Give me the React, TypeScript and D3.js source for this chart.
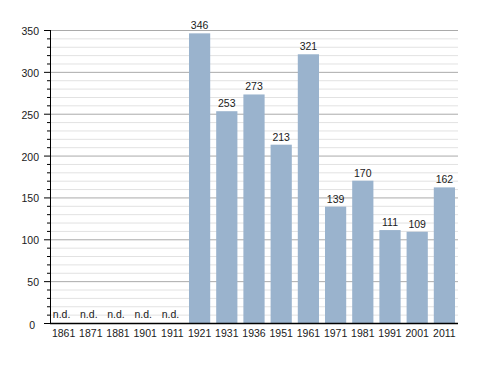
import React, { useEffect, useRef } from 'react';
import * as d3 from 'd3';

// census years and population (null = no data)
const years = ['1861', '1871', '1881', '1901', '1911', '1921', '1931', '1936', '1951', '1961', '1971', '1981', '1991', '2001', '2011'];
const population: (number | null)[] = [null, null, null, null, null, 346, 253, 273, 213, 321, 139, 170, 111, 109, 162];
const yTicks = [0, 50, 100, 150, 200, 250, 300, 350];

const W = 488;
const H = 373;
const margin = { top: 30, right: 30, bottom: 50, left: 50 };
const font = 'Liberation Sans, Arial, sans-serif';

const App = () => {
  const ref = useRef<SVGSVGElement>(null);

  useEffect(() => {
    const svg = d3.select(ref.current);
    svg.selectAll('*').remove();

    const x = d3.scaleBand()
      .domain(years)
      .range([margin.left, W - margin.right])
      .paddingInner(0.22)
      .paddingOuter(0.11);

    const y = d3.scaleLinear()
      .domain([0, 350])
      .range([H - margin.bottom, margin.top]);

    const g = svg.append('g');

    // minor gridlines every 10
    const minor = d3.range(10, 351, 10).filter((v) => v % 50 !== 0);
    g.selectAll('.minor')
      .data(minor)
      .enter()
      .append('line')
      .attr('x1', margin.left)
      .attr('x2', W - margin.right)
      .attr('y1', (d) => y(d) + 0.5)
      .attr('y2', (d) => y(d) + 0.5)
      .attr('stroke', '#e2e2e2');

    // major gridlines
    g.selectAll('.major')
      .data(yTicks.filter((v) => v > 0))
      .enter()
      .append('line')
      .attr('x1', margin.left)
      .attr('x2', W - margin.right)
      .attr('y1', (d) => y(d) + 0.5)
      .attr('y2', (d) => y(d) + 0.5)
      .attr('stroke', '#aaaaaa');

    // bars
    const data = years.map((yr, i) => ({ yr, v: population[i] }));
    g.selectAll('.bar')
      .data(data.filter((d) => d.v !== null))
      .enter()
      .append('rect')
      .attr('x', (d) => x(d.yr)!)
      .attr('width', x.bandwidth())
      .attr('y', (d) => y(d.v as number))
      .attr('height', (d) => y(0) - y(d.v as number))
      .attr('fill', '#9ab3cd');

    // value labels
    g.selectAll('.val')
      .data(data)
      .enter()
      .append('text')
      .attr('x', (d) => x(d.yr)! + x.bandwidth() / 2 - (d.v === null ? 2 : 0))
      .attr('y', (d) => (d.v === null ? y(0) - 5 : y(d.v) - 4))
      .attr('text-anchor', 'middle')
      .attr('font-family', font)
      .attr('font-size', 10.5)
      .attr('fill', '#1a1a1a')
      .text((d) => (d.v === null ? 'n.d.' : String(d.v)));

    // y axis line and ticks
    g.append('line')
      .attr('x1', margin.left + 0.5)
      .attr('x2', margin.left + 0.5)
      .attr('y1', y(350))
      .attr('y2', y(0))
      .attr('stroke', '#000');

    g.selectAll('.ytm')
      .data(d3.range(0, 351, 10))
      .enter()
      .append('line')
      .attr('x1', (d) => (d % 50 === 0 ? margin.left - 6 : margin.left - 3))
      .attr('x2', margin.left)
      .attr('y1', (d) => y(d) + 0.5)
      .attr('y2', (d) => y(d) + 0.5)
      .attr('stroke', '#000');

    g.selectAll('.ylab')
      .data(yTicks)
      .enter()
      .append('text')
      .attr('x', (d) => (d === 0 ? margin.left - 15 : margin.left - 11))
      .attr('y', (d) => y(d) + (d === 0 ? 6 : 5))
      .attr('text-anchor', 'end')
      .attr('font-family', font)
      .attr('font-size', 10.5)
      .attr('fill', '#1a1a1a')
      .text((d) => d);

    // x axis
    g.append('line')
      .attr('x1', margin.left)
      .attr('x2', W - margin.right)
      .attr('y1', y(0) + 0.5)
      .attr('y2', y(0) + 0.5)
      .attr('stroke', '#000')
      .attr('stroke-width', 1.5);

    g.selectAll('.xlab')
      .data(years)
      .enter()
      .append('text')
      .attr('x', (d) => x(d)! + x.bandwidth() / 2)
      .attr('y', y(0) + 14)
      .attr('text-anchor', 'middle')
      .attr('font-family', font)
      .attr('font-size', 10.5)
      .attr('fill', '#1a1a1a')
      .text((d) => d);
  }, []);

  return (
    <svg
      ref={ref}
      width={W}
      height={H}
      style={{ position: 'absolute', left: 0, top: 0, background: '#fff' }}
    />
  );
};

export default App;
